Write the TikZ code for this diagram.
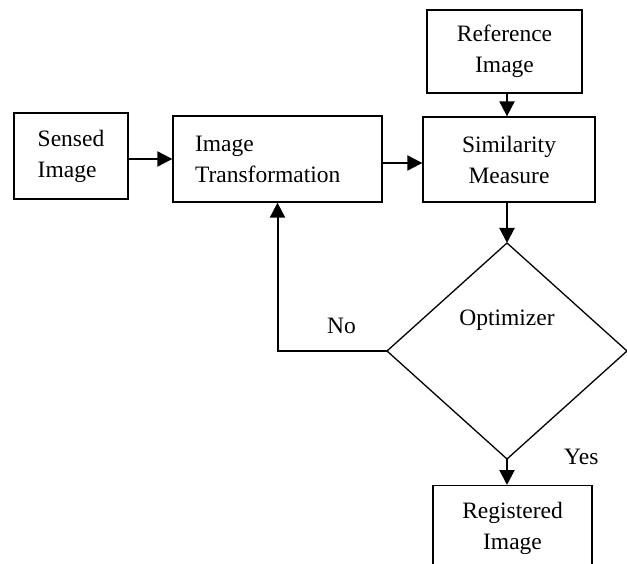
\documentclass[tikz,border=0pt]{standalone}
\usepackage{fontspec}
\setmainfont{Liberation Serif}
\usetikzlibrary{arrows.meta,shapes.geometric}
\begin{document}
\begin{tikzpicture}[x=1pt,y=-1pt,
  box/.style={draw, line width=1.3pt, inner xsep=0pt, inner ysep=0pt,
    font=\fontsize{23.5}{31}\selectfont},
  lbl/.style={inner sep=0pt, font=\fontsize{23.5}{31}\selectfont},
  arr/.style={line width=2pt, -{Triangle[length=15pt,width=15pt]}}
]
\useasboundingbox (0,0) rectangle (627,564);
\fill[white] (0,0) rectangle (627,564);
\clip (0,0) rectangle (627,564);

\node[box, minimum width=114pt, minimum height=86pt, align=left] (sensed) at (71,156) {Sensed\\Image};
\node[box, text width=165pt, inner xsep=22pt, minimum height=86pt, align=left] (it) at (277.5,159) {Image\\Transformation};
\node[box, minimum width=155pt, minimum height=83pt, align=center] (ref) at (504.5,51.5) {Reference\\Image};
\node[box, minimum width=172pt, minimum height=85pt, align=center] (sim) at (509,159.5) {Similarity\\Measure};
\node[box, anchor=north, minimum width=159pt, inner ysep=17pt, align=center] (reg) at (512.5,485) {Registered\\Image};
\node[draw, diamond, line width=1.3pt, minimum width=240pt, minimum height=216pt, inner sep=0pt, outer sep=0pt] (opt) at (507,351) {};
\node[lbl, anchor=base] (opttext) at (507,326) {Optimizer};
\node[lbl, anchor=base west] (no) at (327,334) {No};
\node[lbl, anchor=base west] (yes) at (564,464) {Yes};

\draw[arr] ([yshift=-3pt]sensed.east) -- (it.west);
\draw[arr] ([yshift=-4pt]it.east) -- ([yshift=-3.5pt]sim.west);
\draw[arr] (ref.south -| opt.north) -- (sim.north -| opt.north);
\draw[arr] (sim.south -| opt.north) -- (opt.north);
\draw[arr] (opt.south) -- (reg.north -| opt.south);
\draw[arr] (opt.west) -| (it.south);
\end{tikzpicture}
\end{document}
